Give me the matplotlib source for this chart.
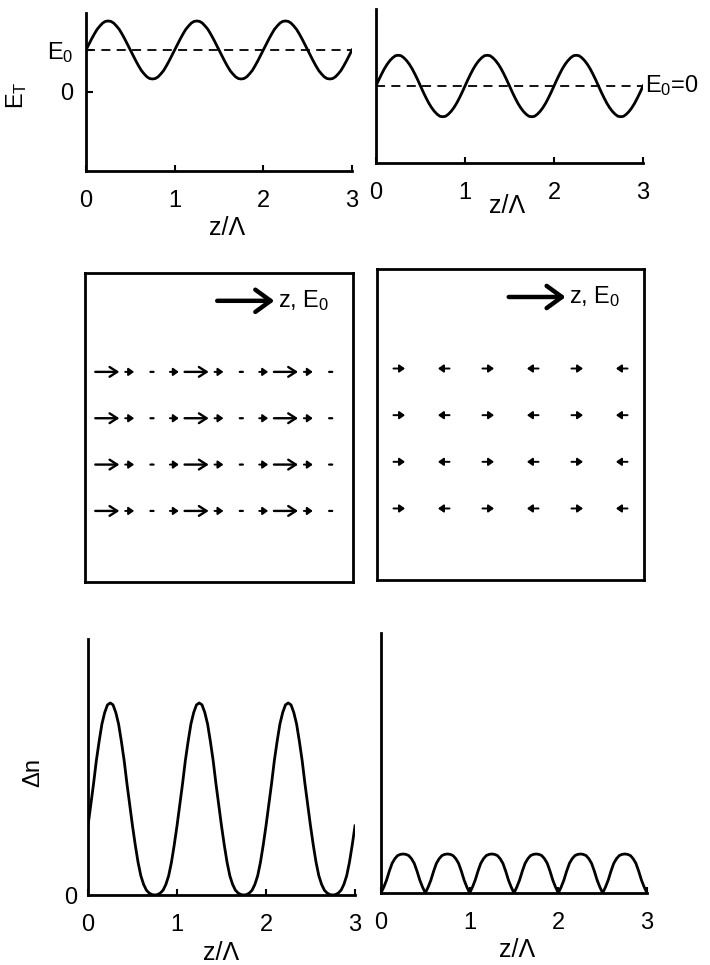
import numpy as np
import matplotlib
matplotlib.use("Agg")
import matplotlib.pyplot as plt

plt.rcParams['font.family'] = ['Liberation Sans', 'DejaVu Sans']
plt.rcParams['mathtext.fontset'] = 'custom'
plt.rcParams['mathtext.rm'] = 'Liberation Sans'
plt.rcParams['mathtext.it'] = 'Liberation Sans:italic'

W, H = 710, 965

# z/Lambda sample grid (1/32 steps)
z = np.linspace(0, 3, 97)

# top row: total field E_T (E0 = 1 left, E0 = 0 right)
E0_left = 1.0
E0_right = 0.0
ET_left = [1.00, 1.13, 1.26, 1.38, 1.49, 1.57, 1.64, 1.68, 1.69, 1.68, 1.64, 1.57, 1.49, 1.38, 1.26, 1.13,
           1.00, 0.87, 0.74, 0.62, 0.51, 0.43, 0.36, 0.32, 0.31, 0.32, 0.36, 0.43, 0.51, 0.62, 0.74, 0.87,
           1.00, 1.13, 1.26, 1.38, 1.49, 1.57, 1.64, 1.68, 1.69, 1.68, 1.64, 1.57, 1.49, 1.38, 1.26, 1.13,
           1.00, 0.87, 0.74, 0.62, 0.51, 0.43, 0.36, 0.32, 0.31, 0.32, 0.36, 0.43, 0.51, 0.62, 0.74, 0.87,
           1.00, 1.13, 1.26, 1.38, 1.49, 1.57, 1.64, 1.68, 1.69, 1.68, 1.64, 1.57, 1.49, 1.38, 1.26, 1.13,
           1.00, 0.87, 0.74, 0.62, 0.51, 0.43, 0.36, 0.32, 0.31, 0.32, 0.36, 0.43, 0.51, 0.62, 0.74, 0.87,
           1.00]
ET_right = [0.00, 0.15, 0.29, 0.42, 0.53, 0.62, 0.69, 0.74, 0.75, 0.74, 0.69, 0.62, 0.53, 0.42, 0.29, 0.15,
            0.00, -0.15, -0.29, -0.42, -0.53, -0.62, -0.69, -0.74, -0.75, -0.74, -0.69, -0.62, -0.53, -0.42, -0.29, -0.15,
            0.00, 0.15, 0.29, 0.42, 0.53, 0.62, 0.69, 0.74, 0.75, 0.74, 0.69, 0.62, 0.53, 0.42, 0.29, 0.15,
            0.00, -0.15, -0.29, -0.42, -0.53, -0.62, -0.69, -0.74, -0.75, -0.74, -0.69, -0.62, -0.53, -0.42, -0.29, -0.15,
            0.00, 0.15, 0.29, 0.42, 0.53, 0.62, 0.69, 0.74, 0.75, 0.74, 0.69, 0.62, 0.53, 0.42, 0.29, 0.15,
            0.00, -0.15, -0.29, -0.42, -0.53, -0.62, -0.69, -0.74, -0.75, -0.74, -0.69, -0.62, -0.53, -0.42, -0.29, -0.15,
            0.00]

# bottom row: index change
dn_left = [0.36, 0.47, 0.58, 0.70, 0.80, 0.89, 0.95, 0.99, 1.00, 0.99, 0.95, 0.89, 0.80, 0.70, 0.58, 0.47,
           0.36, 0.26, 0.17, 0.10, 0.055, 0.025, 0.01, 0.002, 0.00, 0.002, 0.01, 0.025, 0.055, 0.10, 0.17, 0.26,
           0.36, 0.47, 0.58, 0.70, 0.80, 0.89, 0.95, 0.99, 1.00, 0.99, 0.95, 0.89, 0.80, 0.70, 0.58, 0.47,
           0.36, 0.26, 0.17, 0.10, 0.055, 0.025, 0.01, 0.002, 0.00, 0.002, 0.01, 0.025, 0.055, 0.10, 0.17, 0.26,
           0.36, 0.47, 0.58, 0.70, 0.80, 0.89, 0.95, 0.99, 1.00, 0.99, 0.95, 0.89, 0.80, 0.70, 0.58, 0.47,
           0.36, 0.26, 0.17, 0.10, 0.055, 0.025, 0.01, 0.002, 0.00, 0.002, 0.01, 0.025, 0.055, 0.10, 0.17, 0.26,
           0.36]
dn_right = [0.000, 0.030, 0.066, 0.112, 0.152, 0.176, 0.192, 0.198, 0.200, 0.198, 0.192, 0.176, 0.152, 0.112, 0.066, 0.030,
            0.000, 0.030, 0.066, 0.112, 0.152, 0.176, 0.192, 0.198, 0.200, 0.198, 0.192, 0.176, 0.152, 0.112, 0.066, 0.030,
            0.000, 0.030, 0.066, 0.112, 0.152, 0.176, 0.192, 0.198, 0.200, 0.198, 0.192, 0.176, 0.152, 0.112, 0.066, 0.030,
            0.000, 0.030, 0.066, 0.112, 0.152, 0.176, 0.192, 0.198, 0.200, 0.198, 0.192, 0.176, 0.152, 0.112, 0.066, 0.030,
            0.000, 0.030, 0.066, 0.112, 0.152, 0.176, 0.192, 0.198, 0.200, 0.198, 0.192, 0.176, 0.152, 0.112, 0.066, 0.030,
            0.000, 0.030, 0.066, 0.112, 0.152, 0.176, 0.192, 0.198, 0.200, 0.198, 0.192, 0.176, 0.152, 0.112, 0.066, 0.030,
            0.000]

# middle row: field arrows (position z, signed length in z/Lambda)
arrow_rows = [0.68, 0.53, 0.38, 0.23]
arr_left_z = [0.25, 0.50, 0.75, 1.00, 1.25, 1.50, 1.75, 2.00, 2.25, 2.50, 2.75]
arr_left_len = [0.27, 0.10, 0.035, 0.10, 0.27, 0.10, 0.035, 0.10, 0.27, 0.10, 0.035]
arr_right_z = [0.25, 0.75, 1.25, 1.75, 2.25, 2.75]
arr_right_len = [0.13, -0.13, 0.13, -0.13, 0.13, -0.13]

xticks = [0, 1, 2, 3]
xtick_labels = ['0', '1', '2', '3']


def box(l, t, r, b):
    # pixel box -> figure fraction
    return [l / W, 1 - b / H, (r - l) / W, (b - t) / H]


def curve_axes(rect):
    ax = fig.add_axes(rect)
    for s in ['top', 'right']:
        ax.spines[s].set_visible(False)
    for s in ['left', 'bottom']:
        ax.spines[s].set_linewidth(2)
    ax.set_xlim(0, 3)
    ax.set_xticks(xticks)
    ax.set_xticklabels(xtick_labels, fontsize=17)
    ax.tick_params(axis='x', direction='in', length=4, width=1.5, pad=14)
    ax.tick_params(axis='y', direction='in', length=5, width=1.5, pad=9, labelsize=17)
    ax.set_xlabel('z/Λ', fontsize=18)
    ax.xaxis.label.set_va('center')
    return ax


def field_box(rect):
    ax = fig.add_axes(rect)
    ax.set_xlim(0, 3)
    ax.set_ylim(0, 1)
    ax.set_xticks([])
    ax.set_yticks([])
    for s in ax.spines.values():
        s.set_linewidth(2)
    ax.annotate('', xy=(2.12, 0.91), xytext=(1.48, 0.91),
                arrowprops=dict(arrowstyle='->,head_length=0.55,head_width=0.4',
                                lw=3.2, color='black', mutation_scale=20,
                                shrinkA=0, shrinkB=0))
    ax.text(2.16, 0.91, 'z, E$_0$', fontsize=17, va='center', ha='left')
    return ax


def draw_arrow(ax, zc, y, L):
    if abs(L) > 0.2:
        style, lw, ms = '->,head_length=0.5,head_width=0.32', 1.7, 11
    elif abs(L) > 0.05:
        style, lw, ms = '-|>,head_length=0.45,head_width=0.32', 1.4, 7
    else:
        style, lw, ms = '-', 1.6, 5
    ax.annotate('', xy=(zc + L / 2, y), xytext=(zc - L / 2, y),
                arrowprops=dict(arrowstyle=style, lw=lw, color='black',
                                mutation_scale=ms, shrinkA=0, shrinkB=0))


fig = plt.figure(figsize=(W / 100, H / 100), dpi=100)

# top left
ax1 = curve_axes(box(86, 13, 352, 171))
ax1.plot(z, ET_left, color='black', lw=2)
ax1.plot([0, 3], [E0_left, E0_left], color='black', lw=1.3, ls=(0, (5, 3.5)))
ax1.set_ylim(-1.88, 1.88)
ax1.set_yticks([0, E0_left])
ax1.set_yticklabels(['0', 'E$_0$'])
ax1.set_ylabel('E$_\\mathrm{T}$', fontsize=17)
ax1.yaxis.label.set_va('center')
ax1.yaxis.set_label_coords(-0.262, 0.48)
ax1.xaxis.set_label_coords(0.53, -0.36)

# top right
ax2 = curve_axes(box(376, 9, 643, 163))
ax2.plot(z, ET_right, color='black', lw=2)
ax2.plot([0, 3], [E0_right, E0_right], color='black', lw=1.3, ls=(0, (5, 3.5)))
ax2.set_ylim(-1.88, 1.88)
ax2.set_yticks([])
ax2.text(3.02, E0_right, 'E$_0$=0', fontsize=17, va='center', ha='left')
ax2.xaxis.set_label_coords(0.49, -0.28)

# middle boxes
ax3 = field_box(box(85, 273, 353, 582))
for y in arrow_rows:
    for zc, L in zip(arr_left_z, arr_left_len):
        draw_arrow(ax3, zc, y, L)

ax4 = field_box(box(377, 269, 644, 580))
for y in arrow_rows:
    for zc, L in zip(arr_right_z, arr_right_len):
        draw_arrow(ax4, zc, y, L)

# bottom left
ax5 = curve_axes(box(88, 639, 355, 895))
ax5.plot(z, dn_left, color='black', lw=2)
ax5.set_ylim(0, 1.333)
ax5.set_yticks([0])
ax5.set_yticklabels(['0'])
ax5.tick_params(axis='y', length=0, pad=8)
ax5.set_ylabel('Δn', fontsize=17)
ax5.yaxis.label.set_va('center')
ax5.yaxis.set_label_coords(-0.206, 0.48)
ax5.xaxis.set_label_coords(0.50, -0.227)

# bottom right
ax6 = curve_axes(box(381, 633, 647, 893))
ax6.plot(z, dn_right, color='black', lw=2)
ax6.set_ylim(0, 1.333)
ax6.set_yticks([])
ax6.xaxis.set_label_coords(0.51, -0.22)

fig.savefig('out.png', dpi=100)
